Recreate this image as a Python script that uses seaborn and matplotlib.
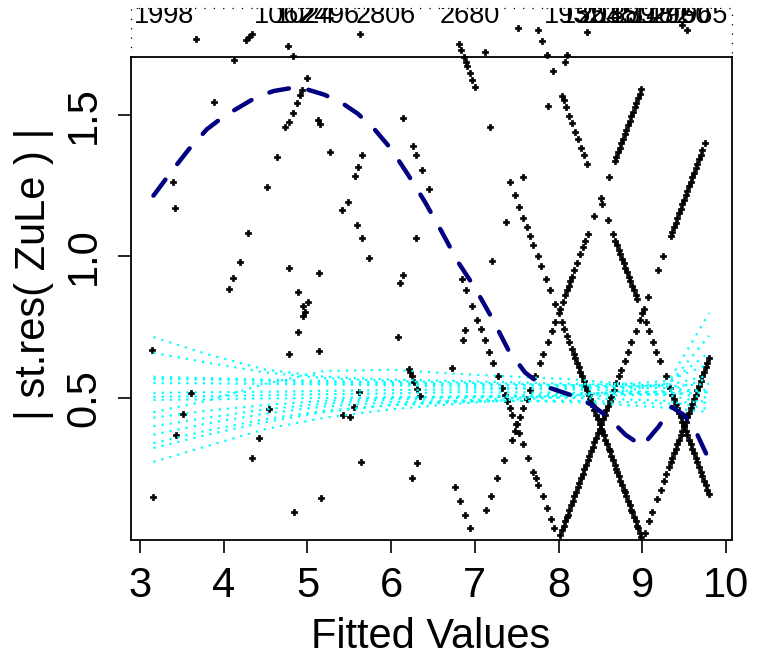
import matplotlib
matplotlib.use("Agg")
import matplotlib.pyplot as plt
import numpy as np
import pandas as pd
import seaborn as sns
from matplotlib.transforms import Bbox, blended_transform_factory

# ---- absolute standardised residuals against fitted values, one run per response level ----
v9_left_x = [8.99, 8.97, 8.95, 8.94, 8.92, 8.90, 8.88, 8.87, 8.85, 8.83,
             8.81, 8.79, 8.78, 8.76, 8.74, 8.72, 8.70, 8.69, 8.67, 8.65,
             8.63, 8.61, 8.60, 8.58, 8.56, 8.54, 8.52, 8.51, 8.49, 8.47,
             8.45, 8.43, 8.41, 8.40, 8.38, 8.36, 8.34, 8.32, 8.30, 8.28,
             8.26, 8.24, 8.22, 8.20, 8.18, 8.16, 8.13, 8.10, 8.07, 8.04,
             8.00, 7.96, 7.90, 7.85, 7.79, 7.75, 7.70, 7.66, 7.62, 7.58,
             7.53, 7.48, 7.42, 7.18, 7.00, 6.97, 6.94, 6.91, 6.89, 6.87,
             6.84, 6.81]
v9_left_y = [0.008, 0.024, 0.040, 0.048, 0.064, 0.080, 0.096, 0.104, 0.120, 0.136,
             0.152, 0.168, 0.176, 0.192, 0.208, 0.224, 0.240, 0.248, 0.264, 0.280,
             0.296, 0.312, 0.320, 0.336, 0.352, 0.368, 0.384, 0.392, 0.408, 0.424,
             0.440, 0.456, 0.472, 0.480, 0.496, 0.512, 0.528, 0.544, 0.560, 0.576,
             0.592, 0.608, 0.624, 0.640, 0.656, 0.672, 0.696, 0.720, 0.744, 0.768,
             0.800, 0.832, 0.880, 0.920, 0.968, 1.000, 1.040, 1.072, 1.104, 1.136,
             1.176, 1.216, 1.264, 1.456, 1.600, 1.624, 1.648, 1.672, 1.688, 1.704,
             1.728, 1.752]

v10_left_x = [9.80, 9.78, 9.76, 9.74, 9.72, 9.70, 9.68, 9.66, 9.64, 9.62,
              9.60, 9.58, 9.56, 9.54, 9.52, 9.50, 9.48, 9.46, 9.44, 9.42,
              9.40, 9.38, 9.36, 9.33,
              9.28, 9.21, 9.17, 9.13, 9.08, 9.04, 9.00,
              8.94, 8.92, 8.90, 8.88, 8.86, 8.84, 8.82, 8.80, 8.78, 8.76,
              8.74, 8.72, 8.70, 8.68, 8.65,
              8.59, 8.52,
              8.34, 8.30, 8.27, 8.23, 8.20, 8.16, 8.13, 8.09, 8.06, 8.04,
              7.93, 7.86, 7.80, 7.75]
v10_left_y = [0.160, 0.176, 0.192, 0.208, 0.224, 0.240, 0.256, 0.272, 0.288, 0.304,
              0.320, 0.336, 0.352, 0.368, 0.384, 0.400, 0.416, 0.432, 0.448, 0.464,
              0.480, 0.496, 0.512, 0.536,
              0.576, 0.632, 0.664, 0.696, 0.736, 0.768, 0.800,
              0.848, 0.864, 0.880, 0.896, 0.912, 0.928, 0.944, 0.960, 0.976, 0.992,
              1.008, 1.024, 1.040, 1.056, 1.080,
              1.128, 1.184,
              1.328, 1.360, 1.384, 1.416, 1.440, 1.472, 1.496, 1.528, 1.552, 1.568,
              1.656, 1.712, 1.760, 1.800]

v8_right_x = [8.02, 8.04, 8.06, 8.08, 8.10, 8.11, 8.13, 8.15, 8.17, 8.19,
              8.21, 8.23, 8.25, 8.27, 8.29, 8.31, 8.33, 8.35, 8.37, 8.39,
              8.41, 8.43, 8.45, 8.47, 8.49, 8.51, 8.53, 8.55, 8.57, 8.59,
              8.61, 8.63, 8.66, 8.69, 8.72, 8.75, 8.79, 8.83, 8.87, 8.92,
              8.97, 9.02,
              9.07, 9.19, 9.25,
              9.34, 9.36, 9.38, 9.40, 9.42, 9.44, 9.46, 9.48, 9.50, 9.52,
              9.54, 9.56, 9.58, 9.60, 9.62, 9.64, 9.66, 9.68, 9.70, 9.72, 9.75]
v8_right_y = [0.016, 0.032, 0.048, 0.064, 0.080, 0.088, 0.104, 0.120, 0.136, 0.152,
              0.168, 0.184, 0.200, 0.216, 0.232, 0.248, 0.264, 0.280, 0.296, 0.312,
              0.328, 0.344, 0.360, 0.376, 0.392, 0.408, 0.424, 0.440, 0.456, 0.472,
              0.488, 0.504, 0.528, 0.552, 0.576, 0.600, 0.632, 0.664, 0.696, 0.736,
              0.776, 0.816,
              0.856, 0.952, 1.000,
              1.072, 1.088, 1.104, 1.120, 1.136, 1.152, 1.168, 1.184, 1.200, 1.216,
              1.232, 1.248, 1.264, 1.280, 1.296, 1.312, 1.328, 1.344, 1.360, 1.376, 1.400]

v9_right_x = [9.03, 9.08, 9.12, 9.18, 9.22, 9.26, 9.29, 9.32,
              9.34, 9.36, 9.38, 9.40, 9.42, 9.44, 9.46, 9.48, 9.50, 9.52,
              9.54, 9.56, 9.58, 9.60, 9.62, 9.64, 9.66, 9.68, 9.70, 9.72,
              9.74, 9.76, 9.78, 9.80]
v9_right_y = [0.024, 0.064, 0.096, 0.144, 0.176, 0.208, 0.232, 0.256,
              0.272, 0.288, 0.304, 0.320, 0.336, 0.352, 0.368, 0.384, 0.400, 0.416,
              0.432, 0.448, 0.464, 0.480, 0.496, 0.512, 0.528, 0.544, 0.560, 0.576,
              0.592, 0.608, 0.624, 0.640]

v7_right_x = [7.13, 7.19, 7.27, 7.35, 7.44, 7.48, 7.51, 7.54, 7.58, 7.62,
              7.66, 7.72, 7.78, 7.82, 7.87, 7.92, 7.96, 8.02, 8.05, 8.08,
              8.10, 8.12, 8.14, 8.16, 8.19, 8.22, 8.26, 8.29, 8.32, 8.35,
              8.43, 8.51, 8.60, 8.67, 8.69, 8.71, 8.73, 8.75, 8.77, 8.79,
              8.81, 8.83, 8.85, 8.87, 8.89, 8.91, 8.93, 8.95, 8.97, 8.99]
v7_right_y = [0.104, 0.152, 0.216, 0.280, 0.352, 0.384, 0.408, 0.432, 0.464, 0.496,
              0.528, 0.576, 0.624, 0.656, 0.696, 0.736, 0.768, 0.816, 0.840, 0.864,
              0.880, 0.896, 0.912, 0.928, 0.952, 0.976, 1.008, 1.032, 1.056, 1.080,
              1.144, 1.208, 1.280, 1.336, 1.352, 1.368, 1.384, 1.400, 1.416, 1.432,
              1.448, 1.464, 1.480, 1.496, 1.512, 1.528, 1.544, 1.560, 1.576, 1.592]

v8_left_x = [7.95, 7.91, 7.86, 7.81, 7.76, 7.73, 7.70, 7.64, 7.58, 7.53,
             7.49, 7.45, 7.42, 7.39, 7.36, 7.33, 7.28, 7.22, 7.17, 7.12,
             7.07, 7.03, 6.97, 6.90, 6.85, 6.45, 6.37, 6.30, 6.26, 6.14]
v8_left_y = [0.040, 0.072, 0.112, 0.152, 0.192, 0.216, 0.240, 0.288, 0.336, 0.376,
             0.408, 0.440, 0.464, 0.488, 0.512, 0.536, 0.576, 0.624, 0.664, 0.704,
             0.744, 0.776, 0.824, 0.880, 0.920, 1.240, 1.304, 1.360, 1.392, 1.488]

v7_left_x = [6.94, 6.88, 6.82, 6.76, 6.35, 6.31, 6.27, 6.25, 6.23, 6.21,
             6.08, 5.74, 5.65, 5.59, 5.49, 5.27, 5.15, 5.13, 4.99]
v7_left_y = [0.040, 0.088, 0.136, 0.184, 0.507, 0.532, 0.557, 0.578, 0.592, 0.602,
             0.716, 0.995, 1.065, 1.111, 1.193, 1.369, 1.468, 1.482, 1.631]

v6_right_x = [6.25, 6.31, 6.73, 6.86, 6.88, 7.21, 7.37, 7.58, 7.87, 8.08, 8.10]
v6_right_y = [0.217, 0.270, 0.606, 0.705, 0.740, 0.984, 1.122, 1.280, 1.532, 1.687, 1.712]

v6_left_x = [5.64, 5.14, 4.95, 5.01, 4.97, 4.95, 4.89, 4.78]
v6_left_y = [0.274, 0.666, 0.825, 0.839, 0.804, 0.790, 0.875, 0.959]

v5_right_x = [5.16, 5.43, 5.51, 5.56, 5.62, 6.11, 6.14, 6.30, 7.12]
v5_right_y = [0.147, 0.440, 0.433, 0.468, 0.521, 0.906, 0.935, 1.065, 1.722]

v4_right_x = [4.34, 4.42, 4.54, 4.78, 4.89, 5.14, 5.41, 5.57, 5.60, 5.65]
v4_right_y = [0.288, 0.359, 0.461, 0.655, 0.733, 0.942, 1.164, 1.284, 1.316, 1.359]

v3_right_x = [3.16, 3.43, 3.51, 3.61, 4.06, 4.11, 4.20, 4.29, 4.52, 4.64,
              4.73, 4.78, 4.83, 4.88, 4.91, 4.94]
v3_right_y = [0.150, 0.369, 0.443, 0.518, 0.885, 0.924, 0.981, 1.083, 1.246, 1.352,
              1.458, 1.475, 1.507, 1.542, 1.571, 1.588]

other_x = [3.14, 3.39, 3.42, 3.88, 4.84]
other_y = [0.670, 1.263, 1.171, 1.546, 0.097]

# observations beyond the upper limit, drawn in the top margin strip
high_x = [3.67, 4.12, 4.27, 4.30, 4.34, 4.77, 4.83, 5.63, 7.52, 8.34, 9.48, 9.54]
high_y = [1.770, 1.694, 1.765, 1.776, 1.786, 1.744, 1.708, 1.786, 1.807, 1.793, 1.818, 1.800]

# ---- smoothed trend of the absolute residuals ----
trend_x = [3.16, 3.4, 3.6, 3.8, 4.0, 4.2, 4.4, 4.6, 4.8, 5.0, 5.2, 5.4, 5.6, 5.8,
           6.0, 6.2, 6.4, 6.6, 6.8, 7.0, 7.2, 7.4, 7.6, 7.8, 8.0, 8.2, 8.4, 8.6,
           8.8, 9.0, 9.2, 9.35, 9.5, 9.65, 9.8]
trend_y = [1.215, 1.31, 1.385, 1.45, 1.495, 1.53, 1.565, 1.585, 1.595, 1.59, 1.572,
           1.545, 1.505, 1.45, 1.38, 1.29, 1.195, 1.09, 0.98, 0.89, 0.785, 0.67,
           0.59, 0.545, 0.525, 0.505, 0.475, 0.43, 0.37, 0.33, 0.40, 0.468, 0.44,
           0.376, 0.28]

# ---- simulated reference envelope, one smooth per simulated sample ----
env_x = [3.16, 3.8, 4.5, 5.2, 6.0, 6.8, 7.5, 8.2, 8.8, 9.3, 9.8]
env_curves = {
    "s01": [0.715, 0.655, 0.600, 0.575, 0.565, 0.560, 0.555, 0.550, 0.545, 0.540, 0.550],
    "s02": [0.660, 0.625, 0.590, 0.570, 0.560, 0.555, 0.550, 0.545, 0.540, 0.545, 0.580],
    "s03": [0.575, 0.570, 0.565, 0.560, 0.555, 0.550, 0.545, 0.540, 0.535, 0.535, 0.520],
    "s04": [0.567, 0.565, 0.560, 0.555, 0.550, 0.548, 0.545, 0.545, 0.550, 0.560, 0.620],
    "s05": [0.553, 0.552, 0.550, 0.548, 0.545, 0.540, 0.535, 0.530, 0.525, 0.520, 0.500],
    "s06": [0.518, 0.520, 0.522, 0.525, 0.528, 0.530, 0.532, 0.535, 0.540, 0.550, 0.660],
    "s07": [0.504, 0.506, 0.510, 0.513, 0.516, 0.520, 0.520, 0.518, 0.515, 0.510, 0.480],
    "s08": [0.493, 0.495, 0.498, 0.500, 0.503, 0.505, 0.505, 0.500, 0.495, 0.490, 0.460],
    "s09": [0.430, 0.455, 0.475, 0.490, 0.500, 0.505, 0.510, 0.515, 0.520, 0.520, 0.530],
    "s10": [0.400, 0.430, 0.460, 0.480, 0.495, 0.500, 0.505, 0.510, 0.515, 0.525, 0.570],
    "s11": [0.370, 0.410, 0.445, 0.470, 0.485, 0.490, 0.490, 0.485, 0.475, 0.465, 0.450],
    "s12": [0.340, 0.385, 0.425, 0.455, 0.475, 0.485, 0.490, 0.490, 0.485, 0.480, 0.490],
    "s13": [0.323, 0.370, 0.415, 0.450, 0.475, 0.490, 0.500, 0.510, 0.525, 0.550, 0.800],
    "s14": [0.274, 0.330, 0.390, 0.430, 0.460, 0.480, 0.495, 0.505, 0.510, 0.515, 0.520],
    "s15": [0.450, 0.490, 0.550, 0.595, 0.600, 0.585, 0.575, 0.565, 0.550, 0.540, 0.720],
}

# ---- identifiers of the observations off the top of the scale ----
id_labels = ["1998", "1062", "1024", "2496", "2806", "2680",
             "1932", "1553", "2045", "1889", "2318", "1472", "2960", "1965"]
id_x = [3.29, 4.72, 4.97, 5.27, 5.94, 6.94,
        8.19, 8.39, 8.59, 8.81, 9.02, 9.24, 9.46, 9.67]

x_ticks = [3, 4, 5, 6, 7, 8, 9, 10]
y_ticks = [0.5, 1.0, 1.5]
y_tick_labels = ["0.5", "1.0", "1.5"]

# ---------------------------------------------------------------------------
sns.set_style("white")
plt.rcParams["font.family"] = ["Liberation Sans", "DejaVu Sans"]
plt.rcParams["text.color"] = "black"
plt.rcParams["axes.labelcolor"] = "black"

W, H = 767, 659
fig = plt.figure(figsize=(W / 100, H / 100), dpi=100)
ax = fig.add_axes([131 / W, 1 - 540 / H, (732 - 131) / W, (540 - 57) / H])

runs = [
    (v9_left_x, v9_left_y), (v10_left_x, v10_left_y), (v8_right_x, v8_right_y),
    (v9_right_x, v9_right_y), (v7_right_x, v7_right_y), (v8_left_x, v8_left_y),
    (v7_left_x, v7_left_y), (v6_right_x, v6_right_y), (v6_left_x, v6_left_y),
    (v5_right_x, v5_right_y), (v4_right_x, v4_right_y), (v3_right_x, v3_right_y),
    (other_x, other_y), (high_x, high_y),
]
frames = []
for xs, ys in runs:
    assert len(xs) == len(ys)
    frames.append(pd.DataFrame({"fitted": xs, "absres": ys}))
points = pd.concat(frames, ignore_index=True)

sns.scatterplot(data=points, x="fitted", y="absres", marker="P", s=20,
                color="black", edgecolor="black", linewidth=0.5,
                legend=False, ax=ax, clip_on=False, zorder=3)

env = pd.concat(
    [pd.DataFrame({"fitted": env_x, "absres": ys, "sample": name})
     for name, ys in env_curves.items()],
    ignore_index=True)
sns.lineplot(data=env, x="fitted", y="absres", units="sample", estimator=None,
             sort=False, color="#00FFFF", linewidth=1.6,
             linestyle=(0, (1, 2.7)), legend=False, ax=ax, zorder=4)

sns.lineplot(x=trend_x, y=trend_y, estimator=None, sort=False, color="#000080",
             linewidth=3.2, linestyle=(0, (4.5, 4.4)), dash_capstyle="round",
             ax=ax, zorder=5)

ax.set_xlim(2.892, 10.073)
ax.set_ylim(-0.002, 1.705)
ax.set_xticks(x_ticks)
ax.set_xticklabels([str(t) for t in x_ticks])
ax.set_yticks(y_ticks)
ax.set_yticklabels(y_tick_labels, rotation=90, va="center")
ax.set_xlabel("")
ax.set_ylabel("")
ax.tick_params(axis="both", direction="out", length=9.4, width=1.2,
               labelsize=30, colors="black", bottom=True, left=True)
ax.tick_params(axis="x", pad=9)
ax.tick_params(axis="y", pad=10)
for sp in ax.spines.values():
    sp.set_visible(True)
    sp.set_color("black")
    sp.set_linewidth(1.3)

# dotted strip above the panel holding the off-scale observations
top_val = 0.5 + (398 - 8) / 283
strip = blended_transform_factory(ax.transAxes, ax.transData)
ax.plot([0, 0, 1, 1], [1.705, top_val, top_val, 1.705], transform=strip,
        color="black", linewidth=0.9, linestyle=(0, (1, 6.5)), clip_on=False)

clip = Bbox.from_extents(129, H - 57, 736, H - 8)
lab_tr = blended_transform_factory(ax.transData, fig.transFigure)
for lab, xv in zip(id_labels, id_x):
    t = ax.text(xv, 1 - 23 / H, lab, transform=lab_tr, ha="center",
                va="baseline", fontsize=19.5, color="black")
    t.set_clip_box(clip)
    t.set_clip_on(True)

fig.text(431 / W, 1 - 648 / H, "Fitted Values", ha="center", va="baseline",
         fontsize=30, color="black")
fig.text(34 / W, 1 - 274 / H, "| st.res( ZuLe ) |", rotation=90,
         ha="center", va="center", fontsize=30, color="black")

fig.savefig("out.png", dpi=100)
